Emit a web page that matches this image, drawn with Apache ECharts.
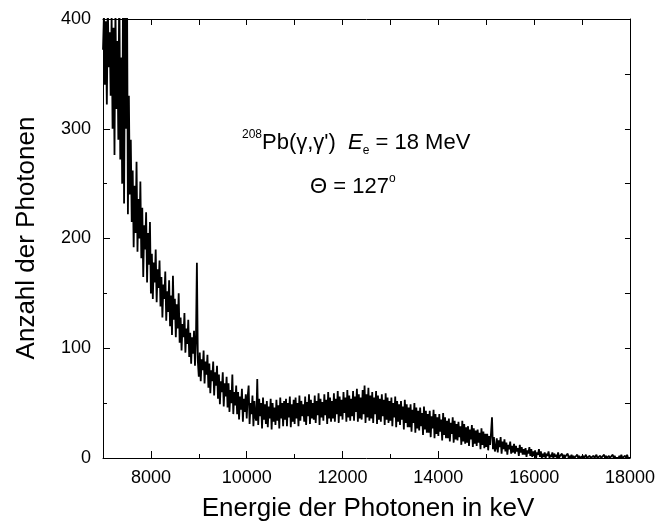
<!DOCTYPE html>
<html>
<head>
<meta charset="utf-8">
<script src="https://cdn.jsdelivr.net/npm/echarts@6/dist/echarts.min.js"></script>
<style>
html,body{margin:0;padding:0;background:#fff;}
#chart{width:658px;height:525px;}
</style>
</head>
<body>
<div id="chart"></div>
<script>
// Spectrum channels: energy of first channel and channel width (keV)
const startKeV = 7000;
const stepKeV = 20;
// Counts, one per 20 keV channel (7000 ... 18000 keV), 10 channels per row
const counts = [
  372, 405, 340, 398, 322, 415, 356, 388, 330, 402,
  300, 392, 276, 410, 318, 380, 290, 440, 272, 365,
  250, 440, 232, 405, 300, 445, 222, 330, 240, 290,
  215, 262, 192, 248, 205, 270, 188, 236, 200, 252,
  182, 228, 165, 212, 190, 224, 160, 205, 176, 215,
  150, 186, 145, 178, 160, 190, 142, 172, 155, 180,
  138, 165, 128, 158, 145, 170, 125, 152, 133, 162,
  120, 148, 112, 166, 126, 145, 110, 140, 118, 150,
  105, 128, 98, 122, 110, 132, 96, 118, 104, 126,
  92, 114, 86, 110, 95, 116, 84, 106, 178, 88,
  74, 96, 70, 90, 80, 98, 68, 88, 76, 94,
  64, 86, 59, 80, 70, 88, 57, 78, 66, 84,
  54, 76, 49, 70, 60, 78, 47, 68, 56, 74,
  46, 68, 42, 62, 50, 76, 40, 60, 48, 66,
  40, 60, 35, 56, 44, 63, 33, 54, 42, 58,
  36, 56, 66, 31, 50, 40, 57, 29, 52, 37,
  34, 72, 30, 54, 38, 50, 27, 55, 35, 49,
  31, 52, 28, 47, 36, 54, 26, 50, 33, 46,
  30, 53, 34, 48, 27, 55, 36, 50, 29, 52,
  35, 54, 29, 50, 37, 56, 28, 49, 33, 53,
  31, 55, 36, 50, 29, 57, 34, 52, 38, 49,
  33, 56, 30, 51, 38, 58, 31, 53, 36, 50,
  35, 57, 32, 52, 39, 59, 30, 54, 37, 51,
  34, 58, 39, 53, 31, 60, 36, 55, 33, 52,
  36, 59, 33, 54, 40, 61, 32, 56, 38, 53,
  35, 60, 41, 55, 33, 62, 37, 57, 34, 54,
  38, 61, 34, 56, 42, 63, 33, 58, 36, 55,
  35, 62, 40, 66, 32, 58, 37, 64, 34, 57,
  36, 60, 32, 55, 40, 61, 31, 57, 35, 54,
  33, 58, 38, 53, 30, 59, 35, 55, 32, 52,
  34, 55, 29, 50, 37, 56, 28, 52, 33, 49,
  30, 52, 35, 47, 26, 53, 32, 49, 28, 46,
  28, 49, 24, 44, 32, 50, 23, 46, 27, 43,
  25, 46, 29, 41, 21, 47, 26, 43, 23, 40,
  23, 43, 19, 38, 27, 44, 18, 40, 22, 37,
  20, 40, 24, 35, 16, 41, 21, 37, 18, 34,
  18, 36, 15, 32, 22, 37, 14, 34, 17, 31,
  16, 33, 19, 29, 12, 34, 15, 31, 13, 28,
  14, 29, 11, 26, 17, 30, 10, 27, 13, 25,
  11, 26, 14, 23, 8, 27, 12, 24, 9, 22,
  10, 22, 7, 20, 12, 23, 37, 8, 19, 6,
  9, 18, 5, 16, 10, 19, 4, 15, 8, 17,
  6, 14, 3, 12, 8, 15, 4, 11, 5, 13,
  4, 11, 6, 9, 2, 12, 5, 10, 3, 8,
  3, 9, 1, 7, 4, 10, 2, 8, 1, 6,
  2, 7, 0, 5, 3, 8, 1, 6, 0, 4,
  1, 5, 0, 4, 2, 6, 0, 3, 1, 5,
  0, 4, 1, 3, 0, 5, 0, 2, 1, 4,
  0, 3, 0, 2, 1, 4, 0, 2, 0, 3,
  0, 2, 0, 1, 0, 3, 0, 2, 0, 1,
  0, 2, 0, 0, 3, 0, 1, 0, 2, 0,
  1, 0, 2, 0, 0, 3, 0, 1, 0, 2,
  0, 1, 0, 3, 0, 2, 0, 0, 2, 0,
  1, 0, 3, 0, 2, 0, 1, 0, 0, 2,
  0, 3, 0, 1, 0, 2, 0, 3, 0, 1,
  0
];
const xMajorTicks = [8000, 10000, 12000, 14000, 16000, 18000];
const yMajorTicks = [0, 100, 200, 300, 400];
const xTitle = 'Energie der Photonen in keV';
const yTitle = 'Anzahl der Photonen';

const FONT = 'Liberation Sans, Arial, Helvetica, sans-serif';
const black = '#000';
const chart = echarts.init(document.getElementById('chart'), null, {renderer: 'canvas'});

function baseX(pos, extra) {
  return Object.assign({
    type: 'value', position: pos, min: 7000, max: 18000,
    axisLine: {show: true, onZero: false, lineStyle: {color: black, width: 1}},
    splitLine: {show: false},
    axisLabel: {show: false}
  }, extra);
}
function baseY(pos, extra) {
  return Object.assign({
    type: 'value', position: pos, min: 0, max: 400,
    axisLine: {show: true, onZero: false, lineStyle: {color: black, width: 1}},
    splitLine: {show: false},
    axisLabel: {show: false}
  }, extra);
}

const option = {
  animation: false,
  backgroundColor: '#fff',
  grid: {left: 103, right: 28, top: 19, bottom: 67, containLabel: false},
  xAxis: [
    baseX('bottom', {
      interval: 1000,
      axisTick: {show: true, inside: true, length: 4, lineStyle: {color: black}},
      axisLabel: {show: true, color: black, fontSize: 18, fontFamily: FONT, margin: 11,
        formatter: v => (v % 2000 === 0 ? String(v) : '')}
    }),
    baseX('bottom', {
      axisLine: {show: false},
      axisTick: {show: true, inside: true, length: 7, customValues: xMajorTicks, lineStyle: {color: black}}
    }),
    baseX('top', {
      interval: 1000,
      axisTick: {show: true, inside: true, length: 6, lineStyle: {color: black}}
    })
  ],
  yAxis: [
    baseY('left', {
      interval: 50,
      axisTick: {show: true, inside: true, length: 4, lineStyle: {color: black}},
      axisLabel: {show: true, color: black, fontSize: 18, fontFamily: FONT, margin: 12,
        formatter: v => (v % 100 === 0 ? String(v) : '')}
    }),
    baseY('left', {
      axisLine: {show: false},
      axisTick: {show: true, inside: true, length: 7, customValues: yMajorTicks, lineStyle: {color: black}}
    }),
    baseY('right', {
      interval: 50,
      axisTick: {show: true, inside: true, length: 5, lineStyle: {color: black}}
    })
  ],
  series: [{
    type: 'line',
    xAxisIndex: 0,
    yAxisIndex: 0,
    data: counts.map((c, i) => [startKeV + i * stepKeV, c]),
    symbol: 'none',
    showSymbol: false,
    clip: true,
    lineStyle: {color: black, width: 1.8},
    silent: true
  }],
  graphic: [
    {
      type: 'text', x: 368, y: 509,
      style: {text: xTitle, fill: black, font: '26px ' + FONT, align: 'center', verticalAlign: 'middle'}
    },
    {
      type: 'text', x: 27, y: 238, rotation: Math.PI / 2,
      style: {text: yTitle, fill: black, font: '26px ' + FONT, align: 'center', verticalAlign: 'middle'}
    },
    {
      type: 'text', x: 242, y: 143,
      style: {
        text: '{sup|208}{n|Pb(γ,γ\')  }{i|E}{sub|e}{n| = 18 MeV}',
        align: 'left', verticalAlign: 'middle',
        rich: {
          n: {fontSize: 22, fontFamily: FONT, fill: black, lineHeight: 28},
          i: {fontSize: 22, fontFamily: FONT, fontStyle: 'italic', fill: black, lineHeight: 28},
          sup: {fontSize: 12, fontFamily: FONT, fill: black, verticalAlign: 'top', lineHeight: 14},
          sub: {fontSize: 12, fontFamily: FONT, fill: black, verticalAlign: 'bottom', lineHeight: 14}
        }
      }
    },
    {
      type: 'text', x: 310, y: 187,
      style: {
        text: '{n|Θ = 127}{sup|o}',
        align: 'left', verticalAlign: 'middle',
        rich: {
          n: {fontSize: 22, fontFamily: FONT, fill: black, lineHeight: 28},
          sup: {fontSize: 12, fontFamily: FONT, fill: black, verticalAlign: 'top', lineHeight: 14}
        }
      }
    }
  ]
};
chart.setOption(option);
</script>
</body>
</html>
